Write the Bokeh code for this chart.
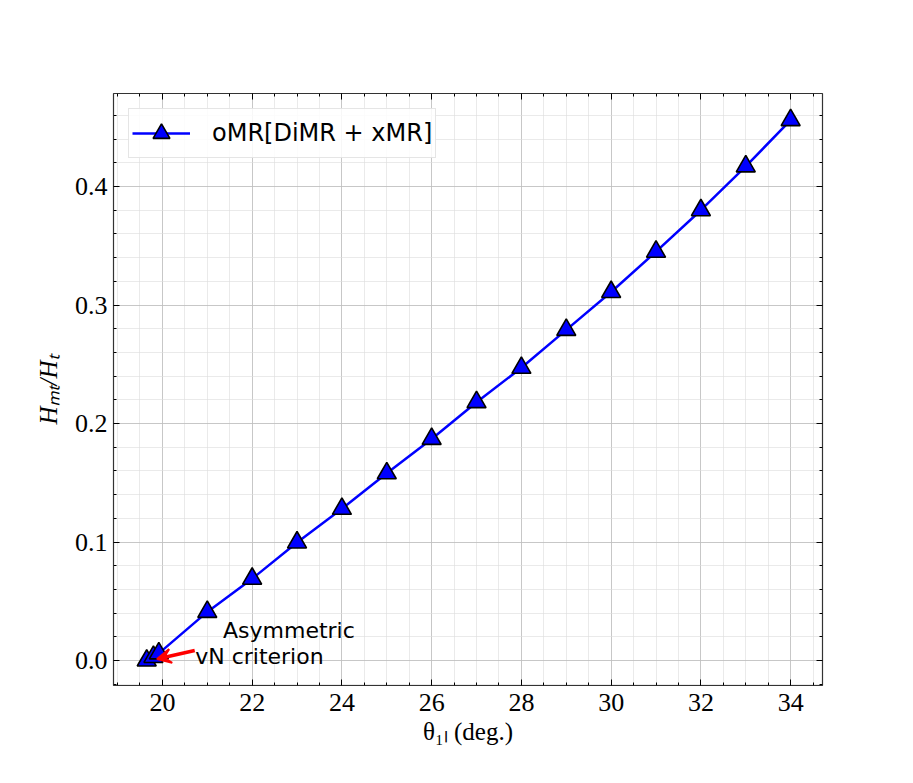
from bokeh.plotting import figure
from bokeh.models import (Range1d, LinearAxis, Arrow, VeeHead, Label, Legend, LegendItem,
                          FixedTicker, CustomJSTickFormatter, PrintfTickFormatter, ColumnDataSource)
from bokeh.embed import file_html
from bokeh.resources import INLINE

theta = [19.65, 19.8, 19.92, 21, 22, 23, 24, 25, 26, 27, 28, 29, 30, 31, 32, 33, 34]
ratio = [0.0, 0.003, 0.006, 0.041, 0.069, 0.0996, 0.128, 0.158, 0.187, 0.218, 0.247,
         0.279, 0.311, 0.345, 0.380, 0.417, 0.456]
x_ticks = [20, 22, 24, 26, 28, 30, 32, 34]
y_ticks = [0.0, 0.1, 0.2, 0.3, 0.4]
x_minor = [18.5 + 0.5 * i for i in range(34)]
y_minor = [-0.02 + 0.02 * i for i in range(26)]
series_name = "oMR[DiMR + xMR]"
note_lines = ["Asymmetric", "vN criterion"]
arrow_tail = (20.72, 0.0085)
arrow_head = (19.88, 0.0012)

src = ColumnDataSource(dict(x=theta, y=ratio))

W, H = 900, 765
p = figure(width=W, height=H, output_backend="svg", toolbar_location=None,
           x_range=Range1d(18.91, 34.71), y_range=Range1d(-0.0211, 0.4785),
           min_border_left=113, min_border_right=W - 822, min_border_top=93,
           min_border_bottom=H - 685, background_fill_color="white")
p.outline_line_color = "#333333"
p.outline_line_width = 1.2

serif = "Liberation Serif"
for ax in (p.xaxis[0], p.yaxis[0]):
    ax.major_label_text_font = serif
    ax.major_label_text_font_size = "26px"
    ax.major_label_text_color = "black"
    ax.axis_label_text_font = serif
    ax.axis_label_text_font_size = "25px"
    ax.axis_label_text_color = "black"
    ax.major_tick_in = 6
    ax.major_tick_out = 0
    ax.minor_tick_in = 3
    ax.minor_tick_out = 0
    ax.axis_line_color = None
    ax.major_tick_line_color = "black"
    ax.minor_tick_line_color = "black"

p.xaxis[0].ticker = FixedTicker(ticks=x_ticks, minor_ticks=x_minor)
p.yaxis[0].ticker = FixedTicker(ticks=y_ticks, minor_ticks=y_minor)
p.yaxis[0].formatter = PrintfTickFormatter(format="%.1f")
p.xaxis[0].axis_label = "θ₁ₗ (deg.)"
p.xaxis[0].axis_label_text_font_style = "normal"
p.yaxis[0].axis_label = "Hₘₜ/Hₜ"
p.yaxis[0].axis_label_text_font_style = "italic"
p.xaxis[0].major_label_standoff = 8
p.yaxis[0].major_label_standoff = 6
p.xaxis[0].axis_label_standoff = 4
p.yaxis[0].axis_label_standoff = 10

blank = CustomJSTickFormatter(code="return ''")
for loc, tks, mtks in (("right", y_ticks, y_minor), ("above", x_ticks, x_minor)):
    a = LinearAxis(ticker=FixedTicker(ticks=tks, minor_ticks=mtks), formatter=blank,
                   major_tick_in=6, major_tick_out=0, minor_tick_in=3, minor_tick_out=0,
                   major_tick_line_color="black", minor_tick_line_color="black",
                   axis_line_color=None, major_label_text_font_size="1px")
    p.add_layout(a, loc)

for g in (p.xgrid[0], p.ygrid[0]):
    g.grid_line_color = "#b8b8b8"
    g.grid_line_alpha = 0.7
    g.grid_line_width = 1
    g.minor_grid_line_color = "#dcdcdc"
    g.minor_grid_line_alpha = 0.6
p.xgrid[0].ticker = p.xaxis[0].ticker
p.ygrid[0].ticker = p.yaxis[0].ticker

ln = p.line("x", "y", source=src, line_color="blue", line_width=2.5)
sc = p.scatter("x", "y", source=src, marker="triangle", size=19, fill_color="blue",
               line_color="black", line_width=1.6)

legend = Legend(items=[LegendItem(label=series_name, renderers=[ln, sc])],
                location="top_left", label_text_font="DejaVu Sans", label_text_font_size="24px",
                label_text_color="black",
                border_line_color="#cccccc", border_line_width=1.2, background_fill_alpha=0.85,
                glyph_width=58, glyph_height=42, label_standoff=22, padding=3,
                margin=15, spacing=0, label_height=40)
p.add_layout(legend, "center")

p.add_layout(Arrow(end=VeeHead(size=14, line_color="red", fill_color="red", line_width=2),
                   x_start=arrow_tail[0], y_start=arrow_tail[1],
                   x_end=arrow_head[0], y_end=arrow_head[1],
                   line_color="red", line_width=3.5))
p.add_layout(Label(x=21.35, y=0.0255, text=note_lines[0], text_font="DejaVu Sans",
                   text_font_size="22px", text_color="black", text_baseline="middle"))
p.add_layout(Label(x=20.73, y=0.0035, text=note_lines[1], text_font="DejaVu Sans",
                   text_font_size="22px", text_color="black", text_baseline="middle"))

open("out.html", "w").write(file_html(p, INLINE))
